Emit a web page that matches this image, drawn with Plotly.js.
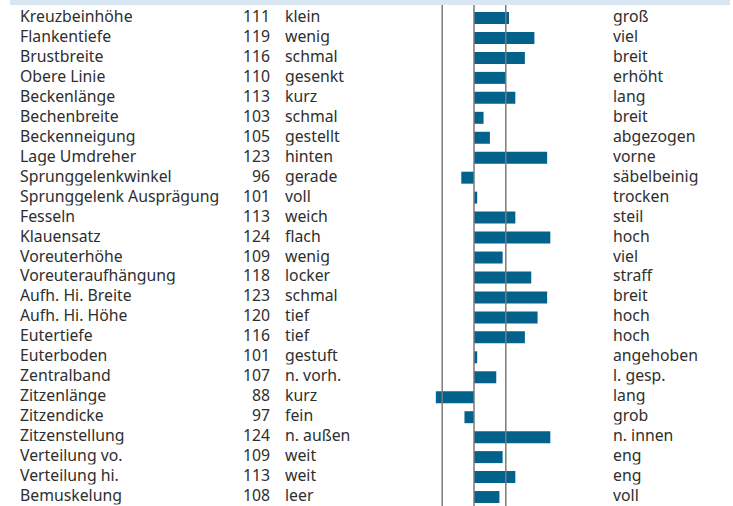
<!DOCTYPE html>
<html>
<head>
<meta charset="utf-8">
<script src="https://cdn.plot.ly/plotly-3.0.1.min.js"></script>
<style>html,body{margin:0;padding:0;background:#fff;}#chart{width:733px;height:506px;}</style>
</head>
<body>
<div id="chart"></div>
<script>
const traits = ["Kreuzbeinhöhe","Flankentiefe","Brustbreite","Obere Linie","Beckenlänge","Bechenbreite","Beckenneigung","Lage Umdreher","Sprunggelenkwinkel","Sprunggelenk Ausprägung","Fesseln","Klauensatz","Voreuterhöhe","Voreuteraufhängung","Aufh. Hi. Breite","Aufh. Hi. Höhe","Eutertiefe","Euterboden","Zentralband","Zitzenlänge","Zitzendicke","Zitzenstellung","Verteilung vo.","Verteilung hi.","Bemuskelung"];
const values = [111,119,116,110,113,103,105,123,96,101,113,124,109,118,123,120,116,101,107,88,97,124,109,113,108];
const lowLabels = ["klein","wenig","schmal","gesenkt","kurz","schmal","gestellt","hinten","gerade","voll","weich","flach","wenig","locker","schmal","tief","tief","gestuft","n. vorh.","kurz","fein","n. außen","weit","weit","leer"];
const highLabels = ["groß","viel","breit","erhöht","lang","breit","abgezogen","vorne","säbelbeinig","trocken","steil","hoch","viel","straff","breit","hoch","hoch","angehoben","l. gesp.","lang","grob","n. innen","eng","eng","voll"];
const tickValues = [70,90,110,130];
const gridValues = [90,100,110];
const baseValue = 100;

const W = 733, H = 506;
const font = {family: "Noto Sans, sans-serif", size: 15.8, color: "#2e2e2e"};

const trace = {
  type: "bar",
  orientation: "h",
  y: traits,
  x: values.map(v => v - baseValue),
  base: baseValue,
  width: 0.6,
  marker: {color: "#02628b", line: {width: 0}},
  hoverinfo: "skip"
};

const annotations = [];
const ys = 2;
const rowAnn = (x, y, text, anchor) => ({xref: "paper", yref: "y", x: x, y: y, yshift: ys, text: text, showarrow: false, xanchor: anchor, yanchor: "middle", height: 19.5, valign: "middle", borderpad: 0, borderwidth: 0, font: font});
traits.forEach((t, i) => {
  annotations.push(rowAnn(20 / W, t, t, "left"));
  annotations.push(rowAnn(270 / W, t, String(values[i]), "right"));
  annotations.push(rowAnn(285 / W, t, lowLabels[i], "left"));
  annotations.push(rowAnn(613 / W, t, highLabels[i], "left"));
});
tickValues.forEach(v => {
  annotations.push({xref: "x", yref: "paper", x: v, xshift: 5, y: 1, yshift: -4, text: String(v), showarrow: false, xanchor: "center", yanchor: "bottom", font: font});
});

const shapes = [
  {type: "rect", xref: "paper", yref: "paper", x0: 10 / W, x1: 730 / W, y0: 1 - 5 / H, y1: 1, fillcolor: "#d7e6f0", line: {width: 0}, layer: "below"}
];
gridValues.forEach(v => {
  shapes.push({type: "line", xref: "x", yref: "paper", x0: v, x1: v, y0: 0, y1: 1 - 5 / H, line: {color: "#7a7a7a", width: 1.5}, layer: "above"});
});

const pxPerUnit = 3.18, basePx = 474;
const layout = {
  width: W, height: H,
  margin: {l: 0, r: 0, t: 0, b: 0, pad: 0},
  paper_bgcolor: "#ffffff",
  plot_bgcolor: "#ffffff",
  showlegend: false,
  xaxis: {range: [baseValue - basePx / pxPerUnit, baseValue + (W - basePx) / pxPerUnit], showgrid: false, zeroline: false, showticklabels: false, ticks: "", fixedrange: true},
  yaxis: {type: "category", categoryorder: "array", categoryarray: traits, range: [(H - 18) / 19.96, -18 / 19.96], showgrid: false, zeroline: false, showticklabels: false, ticks: "", fixedrange: true},
  bargap: 0.4,
  annotations: annotations,
  shapes: shapes
};

Plotly.newPlot("chart", [trace], layout, {staticPlot: true, displayModeBar: false});
</script>
</body>
</html>
